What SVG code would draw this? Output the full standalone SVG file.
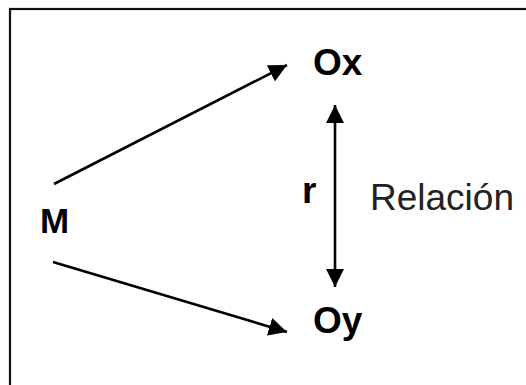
<svg xmlns="http://www.w3.org/2000/svg" width="526" height="385" viewBox="0 0 526 385">
<defs>
<marker id="ah" viewBox="0 0 10 10" refX="10" refY="5" markerWidth="7" markerHeight="7" orient="auto-start-reverse" markerUnits="strokeWidth">
<path d="M0,0 L10,5 L0,10 z" fill="#000"/>
</marker>
<style>
.lbl{font-family:"Liberation Sans",Arial,sans-serif;font-size:37px;font-weight:bold;fill:#000}
.rel{font-family:"Liberation Sans",Arial,sans-serif;font-size:37px;fill:#222}
.conn{stroke:#000;stroke-width:2.6;fill:none}
</style>
</defs>
<rect x="0" y="0" width="526" height="385" fill="#fff"/>
<rect x="10" y="9" width="540" height="400" fill="none" stroke="#111" stroke-width="2.2"/>
<g id="node-M"><text class="lbl" x="40" y="233" style="font-size:35px">M</text></g>
<g id="node-Ox"><text class="lbl" x="313" y="75">Ox</text></g>
<g id="node-Oy"><text class="lbl" x="313" y="333">Oy</text></g>
<g id="label-r"><text class="lbl" x="302" y="203">r</text></g>
<g id="label-relacion"><text class="rel" x="370" y="210">Relación</text></g>
<g id="connectors">
<line class="conn" x1="54" y1="184" x2="287" y2="65" marker-end="url(#ah)"/>
<line class="conn" x1="53" y1="262" x2="287" y2="332" marker-end="url(#ah)"/>
<line class="conn" x1="335" y1="105" x2="335" y2="287" marker-start="url(#ah)" marker-end="url(#ah)"/>
</g>
</svg>
